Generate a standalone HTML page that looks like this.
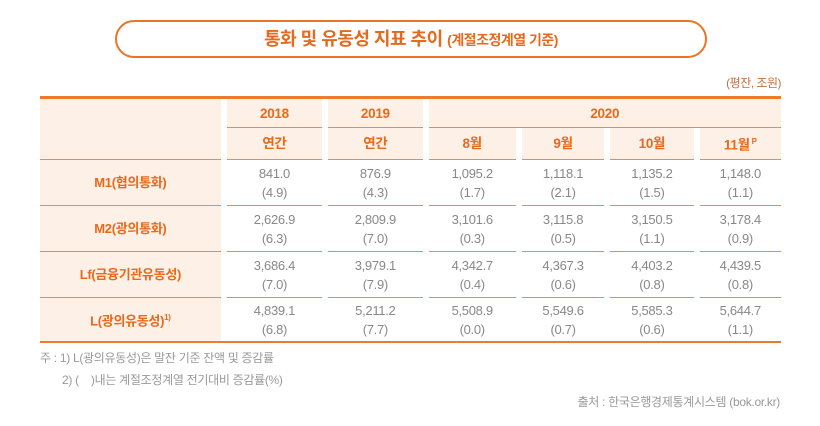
<!DOCTYPE html>
<html><head><meta charset="utf-8">
<style>
body{margin:0;width:820px;height:426px;background:#fff;position:relative;overflow:hidden;font-family:"Liberation Sans","Noto Sans CJK KR",sans-serif;}
.title{position:absolute;left:115px;top:20px;width:588px;height:34px;border:2px solid #ec7424;border-radius:19px;text-align:center;line-height:34px;color:#e8691c;font-weight:bold;font-size:18px;letter-spacing:-0.5px}
.title small{font-size:14px;font-weight:bold}
.unit{position:absolute;right:39px;top:74px;font-size:12px;color:#c8703a;letter-spacing:-0.5px}
.topline{position:absolute;left:40px;top:96px;width:741px;height:3px;background:#ee7a2a}
.botline{position:absolute;left:40px;top:341px;width:741px;height:2px;background:#ee7a2a}
table{position:absolute;left:34px;top:99px;width:753px;border-collapse:separate;border-spacing:6px 0;table-layout:fixed}
td{padding:0;text-align:center;border-bottom:1.5px solid #f08a3c;font-size:13px;color:#888;line-height:19px;letter-spacing:-0.3px}
td.h{background:#fdf0e6;color:#e8691c;font-weight:bold;font-size:13.5px}
td.lab{background:#fdf0e6;color:#e8691c;font-weight:bold;font-size:13px}
tr.last td{border-bottom:none}
sup{font-size:8px}
.note{position:absolute;left:40px;font-size:12px;color:#999;letter-spacing:-0.3px}
.src{position:absolute;right:40px;top:393px;font-size:12px;color:#999;letter-spacing:-0.3px}
</style></head><body>
<div class="title">통화 및 유동성 지표 추이 <small>(계절조정계열 기준)</small></div>
<div class="unit">(평잔, 조원)</div>
<div class="topline"></div>
<table>
<colgroup><col style="width:180px"><col style="width:95px"><col style="width:94px"><col style="width:87px"><col style="width:82px"><col style="width:83px"><col style="width:81px"></colgroup>
<tr style="height:29px">
<td class="h" rowspan="2"></td>
<td class="h">2018</td>
<td class="h">2019</td>
<td class="h" colspan="4">2020</td></tr>
<tr style="height:32px">
<td class="h">연간</td>
<td class="h">연간</td>
<td class="h">8월</td>
<td class="h">9월</td>
<td class="h">10월</td>
<td class="h">11월<sup> P</sup></td></tr>
<tr style="height:46px">
<td class="lab">M1(협의통화)</td>
<td>841.0<br>(4.9)</td><td>876.9<br>(4.3)</td><td>1,095.2<br>(1.7)</td><td>1,118.1<br>(2.1)</td><td>1,135.2<br>(1.5)</td><td>1,148.0<br>(1.1)</td></tr>
<tr style="height:46px">
<td class="lab">M2(광의통화)</td>
<td>2,626.9<br>(6.3)</td><td>2,809.9<br>(7.0)</td><td>3,101.6<br>(0.3)</td><td>3,115.8<br>(0.5)</td><td>3,150.5<br>(1.1)</td><td>3,178.4<br>(0.9)</td></tr>
<tr style="height:46px">
<td class="lab">Lf(금융기관유동성)</td>
<td>3,686.4<br>(7.0)</td><td>3,979.1<br>(7.9)</td><td>4,342.7<br>(0.4)</td><td>4,367.3<br>(0.6)</td><td>4,403.2<br>(0.8)</td><td>4,439.5<br>(0.8)</td></tr>
<tr class="last" style="height:43px">
<td class="lab">L(광의유동성)<sup>1)</sup></td>
<td>4,839.1<br>(6.8)</td><td>5,211.2<br>(7.7)</td><td>5,508.9<br>(0.0)</td><td>5,549.6<br>(0.7)</td><td>5,585.3<br>(0.6)</td><td>5,644.7<br>(1.1)</td></tr>
</table>
<div class="botline"></div>
<div class="note" style="top:349px">주 : 1) L(광의유동성)은 말잔 기준 잔액 및 증감률</div>
<div class="note" style="top:371px;left:62px">2) (&nbsp;&nbsp;&nbsp;&nbsp;)내는 계절조정계열 전기대비 증감률(%)</div>
<div class="src">출처 : 한국은행경제통계시스템 (bok.or.kr)</div>
</body></html>
